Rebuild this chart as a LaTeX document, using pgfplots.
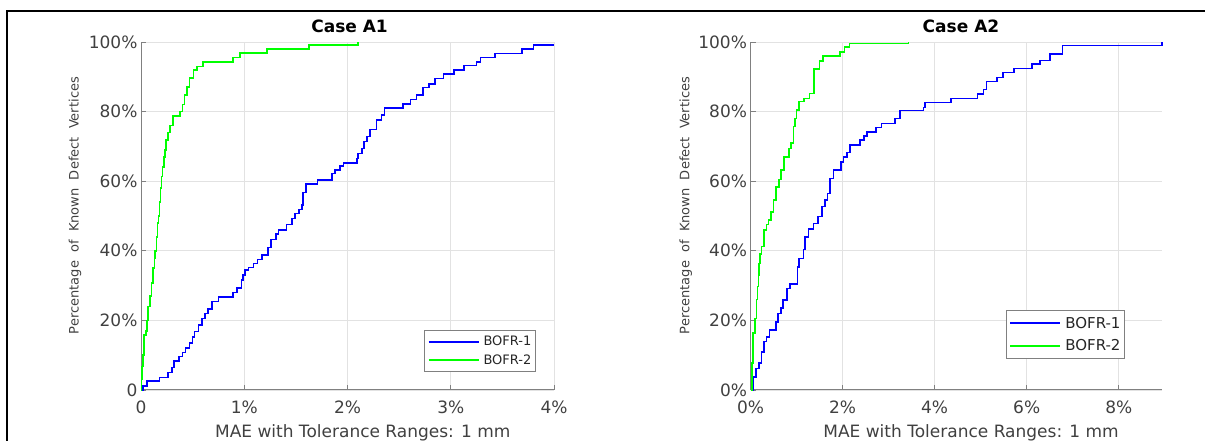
\documentclass[border=0pt]{standalone}
\usepackage{fontspec}
\setmainfont{DejaVu Sans}
\usepackage{pgfplots}
\pgfplotsset{compat=1.18}
\definecolor{tickgray}{HTML}{404040}
\definecolor{axgray}{HTML}{808080}
\definecolor{gridgray}{HTML}{E2E2E2}
\definecolor{mblue}{HTML}{0000FF}
\definecolor{mgreen}{HTML}{00FF00}
\pgfplotsset{
  mystyle/.style={
    scale only axis, height=348pt,
    ymin=0, ymax=100, xmin=0,
    axis lines=left, axis line style={-, draw=axgray, line width=1pt},
    tick align=inside, major tick length=5pt, tick style={draw=axgray, line width=0.8pt},
    grid=major, major grid style={draw=gridgray, line width=0.8pt},
    ytick={0,20,40,60,80,100},
    ticklabel style={font=\fontsize{17}{20}\selectfont, text=tickgray},
    xticklabel style={yshift=-7pt},
    every axis title/.style={at={(axis description cs:0.505,1.046)}, anchor=center, font=\bfseries\fontsize{17}{20}\selectfont},
    every axis y label/.style={at={(axis description cs:-0.16,0.53)}, rotate=90, anchor=center, font=\fontsize{13}{15}\selectfont, text=tickgray},
    every axis x label/.style={at={(axis description cs:0.537,-0.124)}, anchor=center, font=\fontsize{17}{20}\selectfont, text=tickgray},
    xlabel={MAE with Tolerance Ranges: 1 mm},
    ylabel={Percentage\ \ of\ \ Known\ \ Defect\ \ Vertices},
    legend cell align=left,
    clip=false,
  },
  bl/.style={const plot, draw=mblue, line width=1.6pt, no marks,
    legend image code/.code={\draw[draw=mblue, line width=2pt] (0pt,0pt) -- (50pt,0pt);}},
  gr/.style={const plot, draw=mgreen, line width=1.6pt, no marks,
    legend image code/.code={\draw[draw=mgreen, line width=2pt] (0pt,0pt) -- (50pt,0pt);}},
}
\begin{document}
\begin{tikzpicture}
\useasboundingbox (0pt,0pt) rectangle (1205pt,441pt);
\draw[line width=2.2pt] (7pt,0pt) -- (7pt,430pt) -- (1205pt,430pt);

\begin{axis}[mystyle, at={(141pt,51pt)}, anchor=south west, width=413pt,
  xmax=4, xtick={0,1,2,3,4}, xticklabels={0,1\%,2\%,3\%,4\%},
  yticklabels={0,20\%,40\%,60\%,80\%,100\%},
  title={Case A1},
  legend style={at={(0.956,0.051)}, anchor=south east, draw=axgray, line width=0.9pt, font=\fontsize{13}{15}\selectfont, text=black!85, inner xsep=3pt, inner ysep=5pt, row sep=5.5pt, column sep=3pt, nodes={inner sep=1pt}}]
\addplot[bl] coordinates {
(0,0) (0.02,1.2) (0.06,2.6) (0.18,3.6) (0.26,5) (0.30,6.5) (0.32,8.4) (0.37,9.6)
(0.40,10.8) (0.43,12) (0.47,13.5) (0.50,15.2) (0.52,16.8) (0.555,18.7) (0.59,20.6)
(0.62,22) (0.65,23.2) (0.69,25.4) (0.75,26.8) (0.89,28) (0.93,29.3) (0.975,31.6)
(0.99,33) (1.01,34.5) (1.04,35.2) (1.09,36.4) (1.13,37.5) (1.17,38.8) (1.23,41)
(1.26,43.3) (1.31,44.8) (1.33,46) (1.41,47.5) (1.46,49.3) (1.49,50.7) (1.53,51.9)
(1.56,53.2) (1.57,56.7) (1.60,59.2) (1.71,60.3) (1.85,62.2) (1.88,63.2) (1.93,64.4)
(1.96,65.3) (2.09,66.5) (2.10,68) (2.14,69.4) (2.16,71.4) (2.19,72.8) (2.22,74.9)
(2.28,77.6) (2.33,79) (2.36,81) (2.54,82.2) (2.61,83.5) (2.67,84.7) (2.73,86.9)
(2.79,88) (2.85,89.5) (2.93,90.8) (3.03,92) (3.13,93.2) (3.25,94.3) (3.29,95.6)
(3.43,96.7) (3.69,98) (3.80,99.2) (4.00,99.2)
};
\addlegendentry{BOFR-1}
\addplot[gr] coordinates {
(0,0) (0.005,3) (0.01,6.7) (0.02,10) (0.03,15.8) (0.05,17) (0.06,20) (0.07,24)
(0.085,27) (0.10,30.7) (0.115,35) (0.13,38) (0.136,40) (0.15,44) (0.16,48) (0.17,50)
(0.18,54) (0.19,58) (0.20,61.3) (0.21,64) (0.22,67) (0.23,69) (0.24,71.8) (0.26,74)
(0.28,76) (0.31,78.7) (0.38,80) (0.40,82) (0.42,84.8) (0.445,87) (0.47,89.6)
(0.51,92) (0.54,93) (0.60,94.3) (0.89,95.5) (0.96,96.8) (1.22,98) (1.63,99.2) (2.10,100)
};
\addlegendentry{BOFR-2}
\end{axis}

\begin{axis}[mystyle, at={(750.5pt,51pt)}, anchor=south west, width=411.5pt,
  xmax=8.94, xtick={0,2,4,6,8}, xticklabels={0\%,2\%,4\%,6\%,8\%},
  yticklabels={0\%,20\%,40\%,60\%,80\%,100\%},
  title={Case A2},
  every axis title/.style={at={(axis description cs:0.5115,1.046)}, anchor=center, font=\bfseries\fontsize{17}{20}\selectfont},
  every axis y label/.style={at={(axis description cs:-0.157,0.53)}, rotate=90, anchor=center, font=\fontsize{13}{15}\selectfont, text=tickgray},
  every axis x label/.style={at={(axis description cs:0.536,-0.124)}, anchor=center, font=\fontsize{17}{20}\selectfont, text=tickgray},
  legend style={at={(0.910,0.088)}, anchor=south east, draw=axgray, line width=0.9pt, font=\fontsize{15}{18}\selectfont, text=black!85, inner xsep=3pt, inner ysep=5.5pt, row sep=8pt, column sep=3pt, nodes={inner sep=1pt}}]
\addplot[bl] coordinates {
(0,0) (0.05,3.8) (0.12,6.2) (0.19,7.7) (0.24,11) (0.29,13.9) (0.35,15.3) (0.41,17.2)
(0.55,19.6) (0.60,22) (0.66,23.5) (0.71,25.9) (0.79,29.2) (0.86,30.5) (1.02,35.4)
(1.06,37.8) (1.15,40.4) (1.18,43.9) (1.26,46.2) (1.37,47.9) (1.47,49.8) (1.55,52.7)
(1.62,54.6) (1.67,56.5) (1.73,60.8) (1.80,63.2) (1.96,65.6) (2.02,67) (2.09,68.2)
(2.16,70.4) (2.38,71.8) (2.47,73) (2.53,74.2) (2.73,75.4) (2.85,76.6) (3.14,78)
(3.25,80.3) (3.76,81.2) (3.79,82.6) (4.35,83.8) (4.93,85.1) (5.06,86.4) (5.13,88.6)
(5.35,89.8) (5.48,91.2) (5.73,92.4) (6.11,93.7) (6.29,94.7) (6.51,96.6) (6.78,99) (8.94,100)
};
\addlegendentry{BOFR-1}
\addplot[gr] coordinates {
(0,0) (0.03,7.7) (0.06,16.3) (0.10,20.6) (0.13,26) (0.15,29.7) (0.17,33) (0.185,36.4)
(0.21,39) (0.24,41.2) (0.29,46) (0.35,47.5) (0.39,48.9) (0.44,51.2) (0.50,54.6)
(0.55,58.4) (0.62,60.5) (0.66,63.2) (0.73,67) (0.84,69.4) (0.88,71) (0.93,75.7)
(0.97,78) (1.00,80.5) (1.06,82.9) (1.16,83.8) (1.28,85.2) (1.38,92.2) (1.50,94.6)
(1.58,96) (1.95,97.2) (2.04,98.5) (2.15,99.6) (3.43,100)
};
\addlegendentry{BOFR-2}
\end{axis}
\end{tikzpicture}
\end{document}
